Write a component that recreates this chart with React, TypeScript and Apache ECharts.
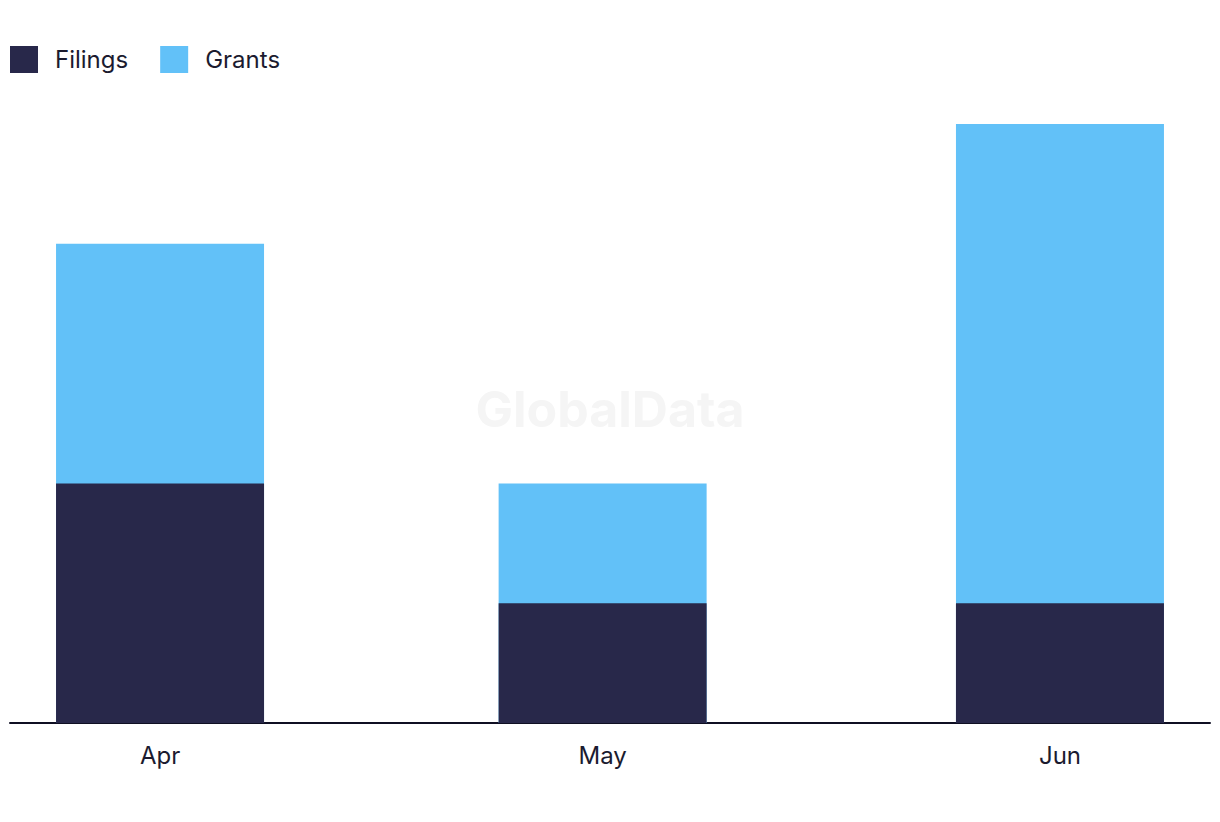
import React, { useEffect, useRef } from "react";
import * as echarts from "echarts";

const months = ["Apr", "May", "Jun"];
const monthDates = ["2024-04-01", "2024-05-01", "2024-06-01"];
const filings = [2, 1, 1];
const grants = [2, 1, 4];

const DAY = 86400000;

export default function App() {
  const ref = useRef<HTMLDivElement>(null);
  useEffect(() => {
    document.body.style.margin = "0";
    const chart = echarts.init(ref.current!, null, { renderer: "svg" });
    const stamps = monthDates.map((d) => Date.UTC(+d.slice(0, 4), +d.slice(5, 7) - 1, +d.slice(8, 10)));
    const days = stamps.map((t) => (t - stamps[0]) / DAY);
    const totals = filings.map((f, i) => f + grants[i]);
    const font = "Inter, 'Noto Sans', sans-serif";
    chart.setOption({
      animation: false,
      textStyle: { fontFamily: font },
      legend: {
        left: 10,
        top: 46,
        padding: 0,
        itemWidth: 28,
        itemHeight: 27,
        itemGap: 32,
        icon: "rect",
        textStyle: { fontSize: 24, color: "#1b1b2f", padding: [0, 0, 0, 12], fontFamily: font },
        data: ["Filings", "Grants"],
      },
      graphic: [
        {
          type: "text",
          left: "center",
          top: 384,
          style: {
            text: "GlobalData",
            fontSize: 50,
            fontWeight: "bold",
            fill: "#f5f5f5",
            fontFamily: font,
          },
          z: -1,
        },
      ],
      grid: { left: 10, right: 10, top: 124, bottom: 99, containLabel: false },
      xAxis: {
        type: "value",
        min: days[0] - 10.17,
        max: days[2] + 10.17,
        axisLine: { show: true, lineStyle: { color: "#0f0f23", width: 2 } },
        axisTick: { show: false },
        splitLine: { show: false },
        axisLabel: {
          customValues: days,
          formatter: (v: number) => {
            const i = days.findIndex((t) => Math.abs(t - v) < 0.5);
            return i >= 0 ? months[i] : "";
          },
          fontSize: 24,
          color: "#1b1b2f",
          margin: 20,
          fontFamily: font,
        },
      },
      yAxis: {
        type: "value",
        min: 0,
        max: 5,
        show: false,
        splitLine: { show: false },
      },
      series: [
        {
          name: "Grants",
          type: "bar",
          barWidth: 208,
          barGap: "-100%",
          itemStyle: { color: "#62c1f8" },
          data: days.map((t, i) => [t, totals[i]]),
        },
        {
          name: "Filings",
          type: "bar",
          barWidth: 208,
          barGap: "-100%",
          itemStyle: { color: "#28284a" },
          data: days.map((t, i) => [t, filings[i]]),
        },
      ],
    });
    return () => chart.dispose();
  }, []);
  return <div ref={ref} style={{ width: 1220, height: 822 }} />;
}
